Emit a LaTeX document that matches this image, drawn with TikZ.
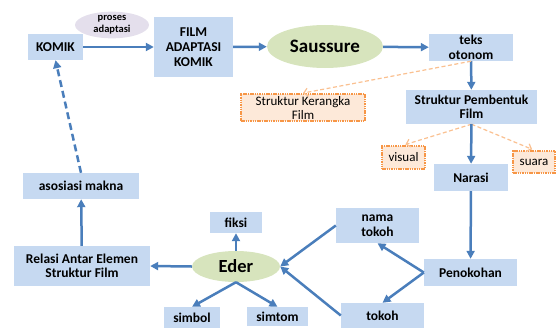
\documentclass[tikz,border=0pt]{standalone}
\usepackage{fontspec}
\setmainfont{Carlito}
\usetikzlibrary{arrows.meta,shapes.geometric}
\definecolor{boxblue}{HTML}{C6D9F1}
\definecolor{arrowblue}{HTML}{4A7EBB}
\definecolor{ovalgreen}{HTML}{D7E4BD}
\definecolor{ovalgray}{HTML}{E4DFEC}
\definecolor{dotorange}{HTML}{F79646}
\definecolor{peach}{HTML}{FDE9D9}
\definecolor{dashorange}{HTML}{FAC090}
\tikzset{
	box/.style={fill=boxblue, align=center, inner sep=0pt, font=\fontsize{13.5}{14.5}\selectfont\bfseries},
	oval/.style={ellipse, fill=ovalgreen, inner sep=0pt, align=center},
	note/.style={draw=dotorange, line width=1.8pt, dash pattern=on 1.5pt off 0.8pt, fill=peach, align=center, inner sep=0pt, font=\fontsize{13}{14}\selectfont},
	link/.style={draw=arrowblue, line width=2.5pt, -{Triangle[length=8pt,width=8pt]}},
	hint/.style={draw=dashorange, line width=1.2pt, dash pattern=on 4pt off 2.5pt, -{Straight Barb[length=4pt,width=8pt]}},
}
\begin{document}
\begin{tikzpicture}[x=1pt, y=-1pt]
			%%%%% START %%%%%
			\useasboundingbox (0, 0) rectangle (556, 329);
			
			\node[box, minimum width=55, minimum height=26] (komik) at (55.5, 47) {KOMIK};
			\node[oval, fill=ovalgray, minimum width=74, minimum height=24, font=\fontsize{10.5}{12}\selectfont\bfseries] (proses) at (112, 25) {proses\\adaptasi};
			\node[box, minimum width=79, minimum height=60, font=\fontsize{13.5}{15}\selectfont\bfseries] (film) at (193.5, 47) {FILM\\ADAPTASI\\KOMIK};
			\node[oval, minimum width=116, minimum height=43, font=\fontsize{19}{20}\selectfont\bfseries] (saussure) at (325, 46.5) {Saussure};
			\node[box, minimum width=84, minimum height=27] (teks) at (471, 47.5) {teks\\otonom};
			
			\node[note, minimum width=124, minimum height=27] (kerangka) at (303, 107.5) {Struktur Kerangka\\Film};
			\node[box, minimum width=131, minimum height=34] (pembentuk) at (471.5, 107) {Struktur Pembentuk\\Film};
			\node[note, minimum width=43, minimum height=23] (visual) at (403.5, 157.5) {visual};
			\node[note, minimum width=42, minimum height=22] (suara) at (534, 162) {suara};
			\node[box, minimum width=74, minimum height=27] (narasi) at (471, 177.5) {Narasi};
			
			\node[box, minimum width=93, minimum height=27] (penokohan) at (470.5, 272.5) {Penokohan};
			\node[box, minimum width=83, minimum height=35] (nama) at (377.5, 225.5) {nama\\tokoh};
			\node[box, minimum width=83, minimum height=25] (tokoh) at (382.5, 315.5) {tokoh};
			
			\node[oval, minimum width=88, minimum height=31, font=\fontsize{18.5}{20}\selectfont\bfseries] (eder) at (236, 266.5) {Eder};
			\node[box, minimum width=52, minimum height=21] (fiksi) at (236, 222.5) {fiksi};
			\node[box, minimum width=56, minimum height=21] (simbol) at (192, 317.5) {simbol};
			\node[box, minimum width=61, minimum height=19] (simtom) at (277.5, 316.5) {simtom};
			
			\node[box, minimum width=136, minimum height=40] (relasi) at (82, 266) {Relasi Antar Elemen\\Struktur Film};
			\node[box, minimum width=116, minimum height=26] (asosiasi) at (81, 186) {asosiasi makna};
			
			\draw[link] (komik) -- (film);
			\draw[link] (film) -- (saussure);
			\draw[link] (saussure) -- (teks);
			\draw[link] (teks) -- (pembentuk);
			\draw[hint] (teks.south) -- (kerangka.north);
			\draw[hint, shorten >=2pt] (pembentuk.south) -- (visual.north);
			\draw[hint, shorten >=2pt] (pembentuk.south) -- (suara.north);
			\draw[link] (pembentuk) -- (narasi);
			\draw[link] (narasi) -- (penokohan);
			
			\draw[link] (penokohan.west) -- (nama.south);
			\draw[link] (penokohan.west) -- (tokoh.north);
			\draw[link] (nama.west) -- (eder.east);
			\draw[link] (tokoh.west) -- (eder.east);
			
			\draw[link] (eder.west) -- (relasi.east);
			\draw[link] (eder) -- (fiksi);
			\draw[link] (eder.south) -- (simbol.north);
			\draw[link] (eder.south) -- (simtom.north);
			\draw[link] (relasi) -- (asosiasi);
			\draw[link, dash pattern=on 7pt off 4pt] (asosiasi.north) -- (komik.south);
			
			%%%%% END %%%%%
\end{tikzpicture}
\end{document}
